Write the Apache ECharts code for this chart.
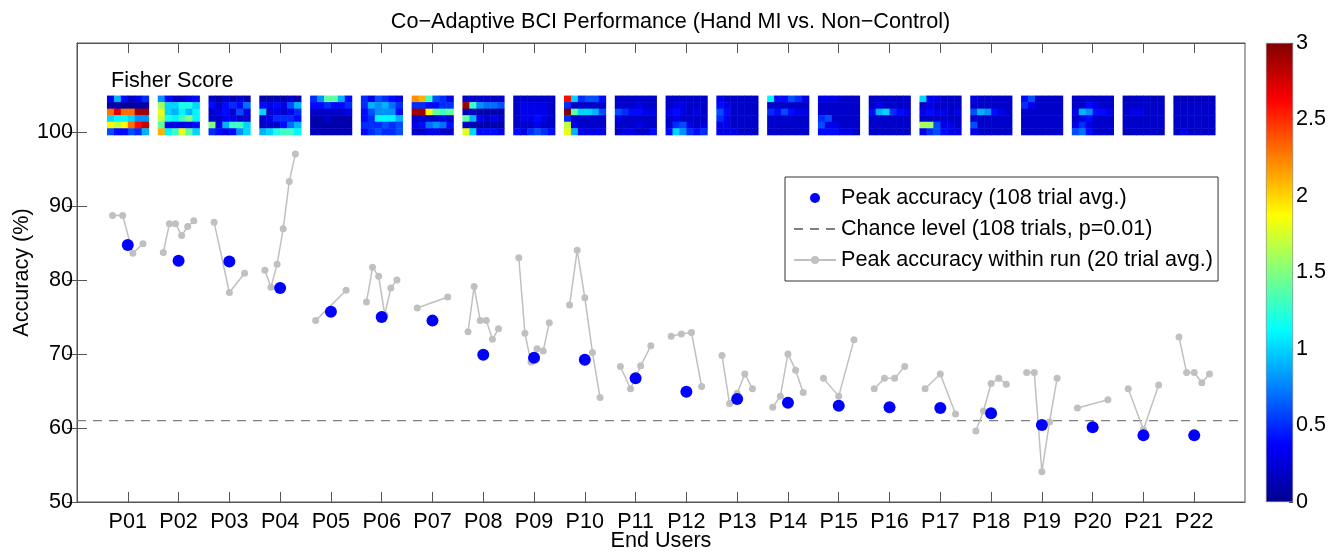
<!DOCTYPE html>
<html>
<head>
<meta charset="utf-8">
<script src="https://cdn.jsdelivr.net/npm/echarts@6/dist/echarts.min.js"></script>
<style>
  html, body { margin: 0; padding: 0; background: #fff; }
  #chart { width: 1341px; height: 554px; }
</style>
</head>
<body>
<div id="chart"></div>
<script>
var users = ['P01', 'P02', 'P03', 'P04', 'P05', 'P06', 'P07', 'P08', 'P09', 'P10', 'P11',
  'P12', 'P13', 'P14', 'P15', 'P16', 'P17', 'P18', 'P19', 'P20', 'P21', 'P22'];

// peak accuracy, 108 trial average
var peakAccuracy = [84.7, 82.6, 82.5, 78.9, 75.7, 75.0, 74.5, 69.9, 69.5, 69.2, 66.7,
  64.9, 63.9, 63.4, 63.0, 62.8, 62.7, 62.0, 60.4, 60.1, 59.0, 59.0];

// chance level (108 trials, p=0.01)
var chanceLevel = 61.0;

// peak accuracy within each run, 20 trial average
var runAccuracy = [
  [88.7, 88.7, 83.6, 84.9],
  [83.7, 87.6, 87.6, 86.0, 87.2, 88.0],
  [87.8, 78.3, 80.9],
  [81.3, 79.0, 82.1, 86.9, 93.3, 97.0],
  [74.5, 78.6],
  [77.0, 81.7, 80.5, 75.3, 78.9, 80.0],
  [76.2, 77.7],
  [73.0, 79.1, 74.5, 74.5, 72.0, 73.4],
  [83.0, 72.8, 68.9, 70.7, 70.4, 74.2],
  [76.6, 84.0, 77.6, 70.2, 64.1],
  [68.3, 65.3, 68.4, 71.1],
  [72.4, 72.7, 72.9, 65.6],
  [69.8, 63.3, 64.7, 67.3, 65.3],
  [62.8, 64.3, 70.0, 67.8, 64.8],
  [66.7, 64.3, 71.9],
  [65.3, 66.7, 66.7, 68.3],
  [65.3, 67.3, 61.9],
  [59.6, 62.3, 66.0, 66.7, 65.9],
  [67.5, 67.5, 54.1, 60.8, 66.7],
  [62.7, 63.8],
  [65.3, 59.8, 65.8],
  [72.3, 67.5, 67.5, 66.1, 67.3]
];

// Fisher score maps, 6x6 per user (rows top to bottom)
var fisherScores = [
  [[0.3,0.9,0.4,0.2,0.3,0.5],[0.1,0.1,0.05,0.05,0.1,0.1],[2.3,2.7,2.3,2.3,2.9,2.9],[1.0,1.1,1.1,1.0,0.8,0.8],[1.9,1.7,1.9,2.3,2.6,2.8],[0.6,0.4,0.4,0.6,0.5,0.9]],
  [[0.8,0.4,0.2,0.2,0.3,0.4],[1.6,1.0,1.0,1.2,1.2,1.0],[1.8,1.0,0.9,1.1,0.9,1.1],[1.7,1.2,1.1,1.3,1.5,1.1],[1.4,0.3,0.3,0.3,0.3,0.4],[2.1,1.1,1.3,1.8,1.4,1.0]],
  [[0.2,0.1,0.2,0.1,0.2,0.1],[0.4,0.2,0.4,0.5,0.4,0.7],[0.2,0.3,0.4,0.2,0.6,0.3],[0.2,0.2,0.3,0.3,0.2,0.2],[1.5,0.3,0.9,1.3,1.3,1.0],[0.5,0.4,0.3,0.4,0.8,1.0]],
  [[0.1,0.1,0.1,0.1,0.2,0.1],[0.4,0.3,0.4,0.3,0.6,0.9],[1.0,0.2,0.3,0.2,0.3,0.5],[0.2,0.3,0.5,0.5,0.5,0.4],[0.2,0.2,0.2,0.4,0.7,0.9],[0.9,1.0,1.2,1.3,1.3,1.1]],
  [[0.5,0.8,1.4,1.4,0.9,0.4],[0.4,0.4,0.5,0.4,0.4,0.5],[0.2,0.2,0.2,0.2,0.2,0.3],[0.1,0.1,0.2,0.1,0.1,0.1],[0.1,0.1,0.1,0.1,0.1,0.1],[0.15,0.15,0.15,0.15,0.15,0.15]],
  [[0.5,0.3,0.6,0.5,0.4,0.3],[0.5,0.9,0.8,0.9,0.7,0.5],[0.4,0.6,0.8,0.8,0.8,0.4],[0.4,0.5,1.1,1.1,1.1,0.9],[0.5,0.5,0.5,0.6,0.5,0.6],[0.4,0.5,0.6,0.5,0.5,0.6]],
  [[2.2,2.1,1.3,0.6,0.5,0.3],[0.5,0.5,0.4,0.4,0.5,0.5],[2.9,2.9,1.9,1.4,1.3,1.4],[0.2,0.2,0.2,0.2,0.3,0.2],[0.3,0.4,0.7,0.8,0.7,0.4],[0.2,0.2,0.3,0.3,0.2,0.2]],
  [[0.2,0.2,0.2,0.2,0.2,0.2],[2.9,1.3,0.8,0.7,0.7,0.6],[0.1,0.2,0.1,0.1,0.1,0.1],[1.4,0.9,0.3,0.2,0.3,0.2],[0.2,0.1,0.1,0.1,0.1,0.1],[1.8,1.0,0.4,0.4,0.4,0.3]],
  [[0.2,0.2,0.2,0.2,0.2,0.2],[0.2,0.3,0.3,0.3,0.3,0.2],[0.2,0.3,0.3,0.3,0.3,0.2],[0.2,0.3,0.3,0.4,0.3,0.2],[0.2,0.2,0.2,0.3,0.2,0.2],[0.4,0.3,0.5,0.6,0.5,0.4]],
  [[2.6,1.0,0.5,0.6,0.6,0.4],[0.5,0.2,0.2,0.2,0.2,0.2],[3.0,1.4,1.0,1.0,0.9,0.6],[0.5,0.2,0.2,0.2,0.2,0.2],[1.7,0.3,0.2,0.2,0.2,0.2],[1.8,0.9,0.3,0.3,0.3,0.3]],
  [[0.2,0.2,0.2,0.2,0.2,0.2],[0.2,0.2,0.2,0.3,0.2,0.2],[0.6,0.5,0.4,0.4,0.3,0.3],[0.3,0.2,0.2,0.2,0.2,0.2],[0.2,0.2,0.2,0.3,0.2,0.2],[0.2,0.3,0.3,0.2,0.2,0.4]],
  [[0.2,0.2,0.2,0.2,0.2,0.2],[0.2,0.3,0.3,0.2,0.2,0.2],[0.3,0.4,0.3,0.2,0.3,0.2],[0.2,0.3,0.2,0.2,0.2,0.2],[0.2,0.5,0.6,0.3,0.2,0.3],[0.4,1.0,0.8,0.5,0.4,0.5]],
  [[0.3,0.2,0.2,0.2,0.2,0.2],[0.4,0.3,0.2,0.2,0.2,0.2],[0.6,0.4,0.2,0.2,0.2,0.2],[0.5,0.3,0.2,0.2,0.2,0.2],[0.3,0.3,0.2,0.2,0.2,0.2],[0.3,0.3,0.3,0.2,0.2,0.2]],
  [[1.1,0.4,0.4,0.6,0.5,0.3],[0.2,0.2,0.2,0.2,0.2,0.2],[0.5,0.4,0.6,0.4,0.3,0.3],[0.2,0.2,0.2,0.2,0.2,0.2],[0.2,0.2,0.2,0.2,0.2,0.2],[0.2,0.2,0.2,0.2,0.2,0.2]],
  [[0.3,0.3,0.3,0.2,0.2,0.2],[0.2,0.2,0.2,0.2,0.2,0.2],[0.2,0.2,0.2,0.2,0.2,0.2],[0.5,0.6,0.2,0.2,0.2,0.2],[0.6,0.3,0.3,0.2,0.2,0.2],[0.4,0.4,0.4,0.3,0.3,0.2]],
  [[0.2,0.2,0.2,0.2,0.2,0.2],[0.2,0.3,0.2,0.2,0.2,0.2],[0.4,0.9,1.0,0.5,0.4,0.3],[0.2,0.2,0.2,0.2,0.2,0.2],[0.2,0.2,0.2,0.2,0.2,0.2],[0.2,0.2,0.2,0.2,0.2,0.2]],
  [[1.0,0.3,0.3,0.2,0.2,0.2],[0.2,0.3,0.2,0.2,0.2,0.2],[0.3,0.4,0.3,0.3,0.2,0.3],[0.2,0.2,0.2,0.2,0.2,0.2],[1.6,1.6,0.6,0.3,0.3,0.2],[0.3,0.5,0.6,0.4,0.3,0.3]],
  [[0.3,0.2,0.2,0.2,0.2,0.2],[0.2,0.2,0.2,0.2,0.2,0.2],[0.6,0.9,0.8,0.4,0.3,0.2],[0.2,0.2,0.2,0.2,0.2,0.2],[0.6,0.2,0.2,0.2,0.2,0.2],[0.3,0.2,0.2,0.2,0.2,0.2]],
  [[0.4,0.6,0.2,0.2,0.2,0.2],[0.5,0.3,0.2,0.2,0.2,0.2],[0.2,0.2,0.2,0.2,0.2,0.2],[0.2,0.2,0.2,0.2,0.2,0.2],[0.2,0.2,0.2,0.2,0.2,0.2],[0.2,0.2,0.2,0.2,0.2,0.2]],
  [[0.2,0.2,0.2,0.2,0.2,0.2],[0.2,0.2,0.4,0.3,0.2,0.2],[0.3,0.9,0.8,0.4,0.4,0.3],[0.2,0.3,0.4,0.2,0.2,0.2],[0.3,0.5,0.3,0.2,0.2,0.2],[0.6,0.7,0.4,0.2,0.2,0.2]],
  [[0.15,0.2,0.2,0.2,0.15,0.15],[0.2,0.2,0.2,0.2,0.2,0.2],[0.2,0.3,0.3,0.2,0.2,0.2],[0.2,0.2,0.2,0.2,0.2,0.2],[0.2,0.2,0.2,0.2,0.2,0.2],[0.15,0.2,0.2,0.2,0.2,0.15]],
  [[0.15,0.15,0.15,0.15,0.15,0.15],[0.2,0.2,0.2,0.2,0.2,0.2],[0.2,0.2,0.2,0.2,0.2,0.2],[0.2,0.2,0.2,0.2,0.2,0.2],[0.2,0.2,0.2,0.2,0.2,0.2],[0.2,0.3,0.2,0.2,0.2,0.2]]
];

var yTicks = [50, 60, 70, 80, 90, 100];
var colorbarTicks = [0, 0.5, 1, 1.5, 2, 2.5, 3];
var jetColors = ['#00008f', '#0000ff', '#0080ff', '#00ffff', '#80ff80', '#ffff00', '#ff8000', '#ff0000', '#800000'];

var peakName = 'Peak accuracy (108 trial avg.)';
var chanceName = 'Chance level (108 trials, p=0.01)';
var runName = 'Peak accuracy within run (20 trial avg.)';
var fontFamily = '"Liberation Sans", Arial, Helvetica, sans-serif';
var fontSize = 21.6;
var boxColor = '#555';

var myChart = echarts.init(document.getElementById('chart'));

var userPos = [];
var peakData = [];
for (var i = 0; i < users.length; i++) {
  userPos.push(i + 1);
  peakData.push([i + 1, peakAccuracy[i]]);
}

// within-run points spread over +-0.3 around each user
var series = [];
runAccuracy.forEach(function (runs, i) {
  var data = [];
  for (var k = 0; k < runs.length; k++) {
    var off = runs.length > 1 ? -0.3 + 0.6 * k / (runs.length - 1) : 0;
    data.push([i + 1 + off, runs[k]]);
  }
  series.push({
    name: runName,
    type: 'line',
    data: data,
    symbol: 'circle',
    symbolSize: 7,
    showSymbol: true,
    itemStyle: { color: '#c0c0c0' },
    lineStyle: { color: '#c0c0c0', width: 1.5 },
    z: 2,
    silent: true
  });
});

series.push({
  name: chanceName,
  type: 'line',
  data: [[0, chanceLevel], [23, chanceLevel]],
  symbol: 'none',
  lineStyle: { color: '#808080', width: 1.3, type: [9, 7] },
  itemStyle: { color: '#808080' },
  z: 1
});

series.push({
  name: peakName,
  type: 'scatter',
  data: peakData,
  symbol: 'circle',
  symbolSize: 12,
  itemStyle: { color: '#0000ff', opacity: 1 },
  z: 4
});

// fisher score cells
var fisherData = [];
fisherScores.forEach(function (grid, i) {
  for (var r = 0; r < grid.length; r++) {
    for (var c = 0; c < grid[r].length; c++) {
      fisherData.push([i + 1, r, c, grid[r][c]]);
    }
  }
});

function renderFisher(params, api) {
  var xc = api.value(0), r = api.value(1), c = api.value(2);
  var cw = 0.82 / 6, ch = 5.3 / 6;
  var p0 = api.coord([xc - 0.41 + c * cw, 104.9 - r * ch]);
  var p1 = api.coord([xc - 0.41 + (c + 1) * cw, 104.9 - (r + 1) * ch]);
  return {
    type: 'rect',
    shape: { x: p0[0], y: p0[1], width: p1[0] - p0[0] + 0.5, height: p1[1] - p0[1] + 0.5 },
    style: { fill: api.visual('color') }
  };
}

var fisherIndex = series.length;
series.push({
  name: 'Fisher Score',
  type: 'custom',
  data: fisherData,
  encode: { x: 0, y: 1 },
  renderItem: renderFisher,
  silent: true,
  z: 3
});

var jetStops = jetColors.map(function (col, k) {
  return { offset: k / (jetColors.length - 1), color: col };
});
series.push({
  name: 'colorbar',
  type: 'bar',
  xAxisIndex: 2,
  yAxisIndex: 2,
  data: [3],
  barWidth: '100%',
  silent: true,
  itemStyle: {
    color: new echarts.graphic.LinearGradient(0, 1, 0, 0, jetStops),
    borderColor: '#777',
    borderWidth: 0.6
  }
});

var hiddenLabel = { show: false };

var option = {
  animation: false,
  textStyle: { fontFamily: fontFamily },
  title: {
    text: 'Co\u2212Adaptive BCI Performance (Hand MI vs. Non\u2212Control)',
    left: 'center',
    top: 6,
    textStyle: { fontSize: fontSize, fontWeight: 'normal', color: '#000', fontFamily: fontFamily }
  },
  legend: {
    data: [
      { name: peakName },
      { name: chanceName, itemStyle: { opacity: 0 } },
      { name: runName }
    ],
    orient: 'vertical',
    left: 785,
    top: 177,
    padding: [10, 5, 10, 8],
    itemGap: 9,
    itemWidth: 42,
    itemHeight: 10,
    borderColor: '#333',
    borderWidth: 1,
    backgroundColor: '#fff',
    selectedMode: false,
    textStyle: { fontSize: fontSize, color: '#000', lineHeight: 22, fontFamily: fontFamily }
  },
  visualMap: {
    show: false,
    type: 'continuous',
    min: 0,
    max: 3,
    dimension: 3,
    seriesIndex: fisherIndex,
    inRange: { color: jetColors }
  },
  graphic: [{
    type: 'text',
    left: 111,
    top: 70,
    style: { text: 'Fisher Score', fontSize: fontSize, fontFamily: fontFamily, fill: '#000' }
  }],
  grid: [
    { left: 77, right: 96, top: 43, bottom: 52, outerBoundsMode: 'none', show: true, borderColor: boxColor, borderWidth: 1, backgroundColor: 'transparent' },
    { left: 1266, width: 27, top: 43, bottom: 52, outerBoundsMode: 'none' }
  ],
  xAxis: [{
    gridIndex: 0,
    type: 'value',
    min: 0,
    max: 23,
    name: 'End Users',
    nameLocation: 'middle',
    nameGap: 28,
    nameMoveOverlap: false,
    nameTextStyle: { fontSize: fontSize, color: '#000', fontFamily: fontFamily },
    axisLine: { show: true, lineStyle: { color: boxColor } },
    axisTick: { show: true, inside: true, length: 10, customValues: userPos, lineStyle: { color: boxColor } },
    axisLabel: {
      customValues: userPos,
      fontSize: fontSize,
      color: '#000',
      margin: 9,
      formatter: function (v) { return users[Math.round(v) - 1]; }
    },
    splitLine: { show: false }
  }, {
    gridIndex: 0,
    type: 'value',
    position: 'top',
    min: 0,
    max: 23,
    axisLine: { show: true, lineStyle: { color: boxColor } },
    axisTick: { show: true, inside: true, length: 10, customValues: userPos, lineStyle: { color: boxColor } },
    axisLabel: hiddenLabel,
    splitLine: { show: false }
  }, {
    gridIndex: 1,
    type: 'category',
    data: [''],
    show: false
  }],
  yAxis: [{
    gridIndex: 0,
    type: 'value',
    min: 50,
    max: 112,
    name: 'Accuracy (%)',
    nameLocation: 'middle',
    nameGap: 44,
    nameMoveOverlap: false,
    nameTextStyle: { fontSize: fontSize, color: '#000', fontFamily: fontFamily },
    axisLine: { show: true, lineStyle: { color: boxColor } },
    axisTick: { show: true, inside: true, length: 10, customValues: yTicks, lineStyle: { color: boxColor } },
    axisLabel: { customValues: yTicks, fontSize: fontSize, color: '#000', margin: 4 },
    splitLine: { show: false }
  }, {
    gridIndex: 0,
    type: 'value',
    position: 'right',
    min: 50,
    max: 112,
    axisLine: { show: true, lineStyle: { color: boxColor } },
    axisTick: { show: true, inside: true, length: 10, customValues: yTicks, lineStyle: { color: boxColor } },
    axisLabel: hiddenLabel,
    splitLine: { show: false }
  }, {
    gridIndex: 1,
    type: 'value',
    position: 'right',
    min: 0,
    max: 3,
    axisLine: { show: false },
    axisTick: { show: true, inside: true, length: 4, customValues: colorbarTicks, lineStyle: { color: '#444' } },
    axisLabel: { customValues: colorbarTicks, fontSize: fontSize, color: '#000', margin: 3 },
    splitLine: { show: false }
  }],
  series: series
};

myChart.setOption(option);
</script>
</body>
</html>
